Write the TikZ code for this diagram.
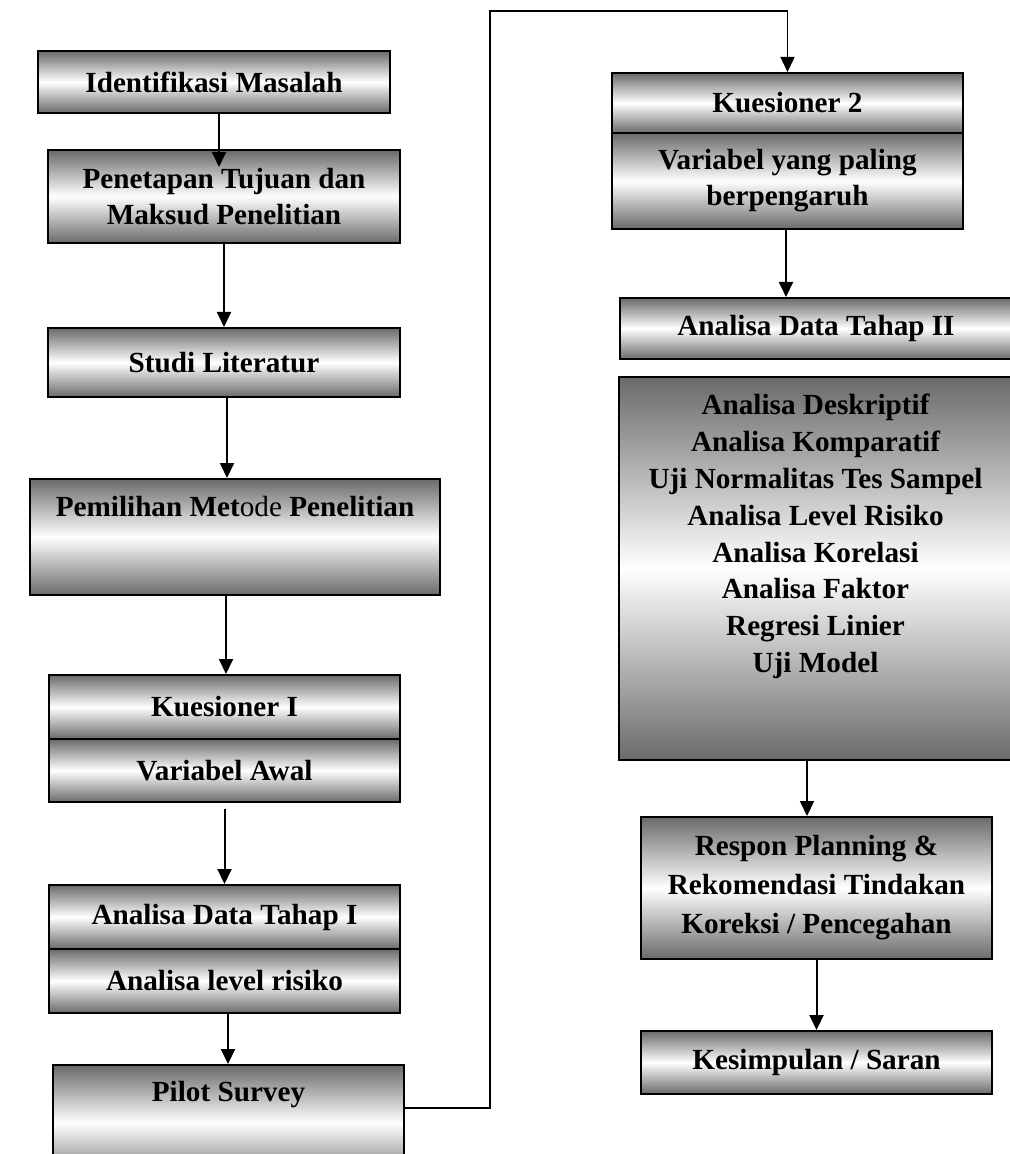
\documentclass[tikz,border=0pt]{standalone}
\usepackage{fontspec}
\setmainfont{Liberation Serif}
\usepackage{tikz}
\usetikzlibrary{arrows.meta, calc}
\definecolor{edgegray}{HTML}{6A6A6A}
\newcommand{\boxfont}{\bfseries\fontsize{14.6}{18}\selectfont}

\begin{document}
\begin{tikzpicture}[x=0.5pt, y=-0.5pt, font=\boxfont,
    box/.style={draw, line width=1pt, top color=edgegray, bottom color=edgegray,
      middle color=white, inner sep=0pt, align=center, minimum width=175.5pt},
    arr/.style={-{Triangle[width=7pt, length=7.5pt]}, line width=1pt}]
  \useasboundingbox (0,0) rectangle (1009,1154);
  % Left column
  \node[box, minimum width=176pt, minimum height=31pt] (ident) at (214,82) {Identifikasi Masalah};
  \node[box, minimum width=176pt, minimum height=46.5pt] (penetapan) at (224,196.5)
    {Penetapan Tujuan dan\\Maksud Penelitian};
  \node[box, minimum width=176pt, minimum height=34.5pt] (studi) at (224,362.5) {Studi Literatur};
  \node[box, minimum width=205pt, minimum height=58pt,
    label={[anchor=base, yshift=-19pt]north:Pemilihan Met{\mdseries ode} Penelitian}]
    (pemilihan) at (235,537) {};
  \node[box, minimum height=32pt] (kues1) at (224.5,707) {Kuesioner I};
  \node[box, minimum height=31.5pt] (varawal) at (224.5,770.5) {Variabel Awal};
  \node[box, minimum height=32pt] (adata1) at (224.5,917) {Analisa Data Tahap I};
  \node[box, minimum height=32pt] (levelrisk) at (224.5,981) {Analisa level risiko};
  \node[box, minimum height=58pt,
    label={[anchor=base, yshift=-18.5pt]north:Pilot Survey}]
    (pilot) at (228.5,1123) {};
  % Right column
  \node[box, minimum height=30pt] (kues2) at (787.5,103) {Kuesioner 2};
  \node[box, minimum height=48pt] (varpaling) at (787.5,181) {Variabel yang paling\\berpengaruh};
  \node[box, minimum width=196pt, minimum height=30.5pt] (adata2) at (816,328.5) {Analisa Data Tahap II};
  \node[box, minimum width=196.5pt, minimum height=191.5pt,
    label={[anchor=north, yshift=-9pt, align=center, inner sep=0pt,
      font=\bfseries\fontsize{14.6}{18.4}\selectfont]north:Analisa Deskriptif\\Analisa Komparatif\\
      Uji Normalitas Tes Sampel\\Analisa Level Risiko\\Analisa Korelasi\\Analisa Faktor\\
      Regresi Linier\\Uji Model}]
    (analisis) at (815.5,568.5) {};
  \node[box, minimum height=71pt, font=\bfseries\fontsize{14.6}{19.5}\selectfont] (respon) at (816.5,888)
    {Respon Planning \&\\Rekomendasi Tindakan\\Koreksi / Pencegahan};
  \node[box, minimum height=31.5pt] (kesimpulan) at (816.5,1062.5) {Kesimpulan / Saran};
  % Arrows
  \draw[arr] (ident.south -| 219,0) -- ([yshift=-9pt]penetapan.north -| 219,0);
  \draw[arr] (penetapan.south) -- (penetapan.south |- studi.north);
  \draw[arr] (studi.south -| 227,0) -- (pemilihan.north -| 227,0);
  \draw[arr] (pemilihan.south -| 226,0) -- (kues1.north -| 226,0);
  \draw[arr] ([yshift=-3pt]varawal.south) -- (adata1.north);
  \draw[arr] (levelrisk.south -| 228,0) -- (pilot.north -| 228,0);
  \draw[arr] (varpaling.south -| 786,0) -- (adata2.north -| 786,0);
  \draw[arr] (analisis.south -| 807,0) -- (respon.north -| 807,0);
  \draw[arr] (respon.south) -- (kesimpulan.north);
  % Loop from pilot survey to second questionnaire
  \coordinate (bend) at (490,11);
  \draw[arr, line width=0.75pt] ([yshift=7.5pt]pilot.east) -| (bend) -| (kues2.north);
\end{tikzpicture}
\end{document}
